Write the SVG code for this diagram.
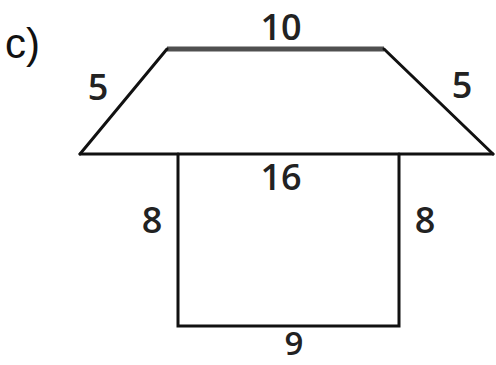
<svg xmlns="http://www.w3.org/2000/svg" width="496" height="365" viewBox="0 0 496 365">
<style>
.lbl{font-family:"Open Sans","DejaVu Sans",sans-serif;font-size:36px;font-weight:600;fill:#222;text-anchor:middle}
.ln{stroke:#111;stroke-width:3;fill:none;stroke-linecap:round}
</style>
<rect width="496" height="365" fill="#fff"/>
<text x="5" y="58" font-family="Liberation Sans, Arial, sans-serif" font-size="42" fill="#111">c)</text>
<g id="connectors">
<line x1="167" y1="49" x2="384" y2="49" stroke="#505050" stroke-width="5"/>
<line class="ln" x1="167" y1="49" x2="80" y2="154"/>
<line class="ln" x1="384" y1="49" x2="493" y2="154"/>
<line class="ln" x1="80" y1="154" x2="493" y2="154"/>
<polyline class="ln" points="178,154 178,326 399,326 399,154" stroke-width="2.5"/>
</g>
<g id="labels">
<text class="lbl" x="281" y="40">10</text>
<text class="lbl" x="98" y="100">5</text>
<text class="lbl" x="462" y="98">5</text>
<text class="lbl" x="281" y="190">16</text>
<text class="lbl" x="152" y="233">8</text>
<text class="lbl" x="425" y="233">8</text>
<text class="lbl" x="294" y="355" style="font-size:33px">9</text>
</g>
</svg>
